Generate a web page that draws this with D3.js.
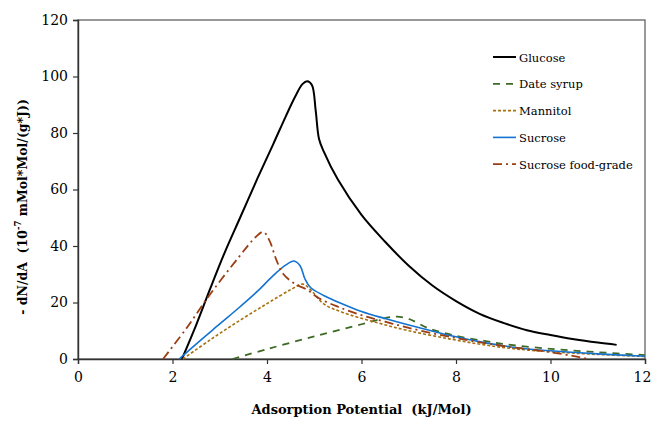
<!DOCTYPE html>
<html>
<head>
<meta charset="utf-8">
<script src="https://cdn.jsdelivr.net/npm/d3@7"></script>
<style>
  body { margin: 0; background: #fff; }
  svg text { fill: #000; }
</style>
</head>
<body>
<div id="chart"></div>
<script>
const xTicks = [0, 2, 4, 6, 8, 10, 12];
const yTicks = [0, 20, 40, 60, 80, 100, 120];

const glucose = [[2.2,0],[2.5,12],[2.8,25],[3.1,37.5],[3.43,50],[3.8,64],[4.13,76],[4.4,86],[4.6,93],[4.75,97.3],[4.85,98.3],[4.95,97],[5.03,88],[5.1,78],[5.2,73.5],[5.5,63.5],[6.0,51],[6.5,41.5],[7,33],[7.5,26],[8,20.5],[8.5,16],[9,12.8],[9.5,10.2],[10,8.5],[10.5,7],[11,5.8],[11.4,5]];
const dateSyrup = [[3.27,0],[4.0,3.5],[5.0,8],[6.0,12.3],[6.5,14.5],[6.75,15],[7.0,14.2],[7.4,11],[8,8.2],[8.6,6.4],[9,5.3],[10,3.6],[11,2.4],[12,1.4]];
const mannitol = [[2.22,0],[2.8,6.8],[3.4,13.4],[4.0,19.6],[4.5,24.5],[4.76,26.5],[4.95,24],[5.2,19.5],[5.6,16.5],[6.3,13],[7,10],[7.9,7],[8.6,5],[9.3,3.5],[10,2.6],[11,1.6],[12,0.9]];
const sucrose = [[2.14,0],[2.5,5.3],[3.0,12.4],[3.43,18.5],[3.8,24],[4.13,29.5],[4.4,33.3],[4.57,34.7],[4.7,33],[4.8,28.5],[4.92,25.3],[5.2,22.5],[5.55,19.8],[6.0,16.8],[6.5,14.3],[7,12],[7.9,8.2],[8.6,5.8],[9.3,4],[10,2.9],[11,1.8],[12,1.0]];
const sucroseFG = [[1.8,0],[2.3,11],[2.8,23],[3.4,36],[3.75,43],[3.92,45],[4.05,42],[4.2,35],[4.35,30],[4.6,26.5],[4.85,24.5],[5.1,21.5],[5.5,18.5],[6,15.5],[6.5,13.2],[7,11],[8,7.4],[9,4.6],[10,2.4],[10.5,1],[10.8,0]];

const series = [
  { name: "Glucose", data: glucose, color: "#000000", width: 2, dash: null },
  { name: "Date syrup", data: dateSyrup, color: "#3e6a26", width: 1.8, dash: "7,6" },
  { name: "Mannitol", data: mannitol, color: "#a8700f", width: 1.6, dash: "3,2" },
  { name: "Sucrose", data: sucrose, color: "#1273d1", width: 1.6, dash: null },
  { name: "Sucrose food-grade", data: sucroseFG, color: "#9c3d12", width: 1.8, dash: "9,4,2,4" }
];

const width = 653, height = 425;
const margin = { top: 20, right: 8, bottom: 66, left: 78 };
const innerW = 645 - margin.left, innerH = 359 - margin.top;
const serif = "'DejaVu Serif', serif";

const svg = d3.select("#chart").append("svg")
  .attr("width", width).attr("height", height);
const g = svg.append("g").attr("transform", `translate(${margin.left},${margin.top})`);

const x = d3.scaleLinear().domain([0, 12]).range([0, innerW]);
const y = d3.scaleLinear().domain([0, 120]).range([innerH, 0]);

// frame
g.append("rect").attr("x", 0).attr("y", 0).attr("width", innerW).attr("height", innerH)
  .attr("fill", "none").attr("stroke", "#555").attr("stroke-width", 1.2);

const xAxis = g.append("g").attr("transform", `translate(0,${innerH})`)
  .call(d3.axisBottom(x).tickValues(xTicks).tickSize(5).tickPadding(8).tickFormat(d3.format("d")));
const yAxis = g.append("g")
  .call(d3.axisLeft(y).tickValues(yTicks).tickSize(5).tickPadding(5).tickFormat(d3.format("d")));
[xAxis, yAxis].forEach(a => {
  a.attr("font-family", null);
  a.select(".domain").attr("stroke", "#333").attr("stroke-width", 1.4);
  a.selectAll(".tick line").attr("stroke", "#333").attr("stroke-width", 1.2);
  a.selectAll("text").attr("font-size", 14).style("font-family", serif);
});
// keep the last x label inside the page
xAxis.selectAll(".tick text").filter(d => d === 12).attr("dx", -3);

const line = d3.line().x(d => x(d[0])).y(d => y(d[1])).curve(d3.curveCatmullRom.alpha(0.5));

g.selectAll(".series").data(series).enter().append("path")
  .attr("class", "series")
  .attr("d", d => line(d.data))
  .attr("fill", "none")
  .attr("stroke", d => d.color)
  .attr("stroke-width", d => d.width)
  .attr("stroke-dasharray", d => d.dash);

// legend
const legend = svg.append("g").attr("transform", "translate(493,57)");
const rows = legend.selectAll("g").data(series).enter().append("g")
  .attr("transform", (d, i) => `translate(0,${i * 26.8})`);
rows.append("line").attr("x1", 0).attr("x2", 23).attr("y1", 0).attr("y2", 0)
  .attr("stroke", d => d.color).attr("stroke-width", d => d.width)
  .attr("stroke-dasharray", d => d.dash);
rows.append("text").attr("x", 26).attr("y", 4.5).attr("font-size", 11.5)
  .style("font-family", serif).text(d => d.name);

// axis titles
svg.append("text").attr("x", 78 + innerW / 2).attr("y", 414).attr("text-anchor", "middle")
  .attr("font-size", 13).attr("font-weight", "bold").style("white-space", "pre")
  .style("font-family", serif)
  .text("Adsorption Potential  (kJ/Mol)");

const yt = svg.append("text").attr("transform", "translate(27,207) rotate(-90)")
  .attr("text-anchor", "middle").attr("font-size", 12.5).attr("font-weight", "bold")
  .style("white-space", "pre").style("font-family", serif);
yt.append("tspan").text("- dN/dA  (10");
yt.append("tspan").attr("dy", -6).attr("font-size", 8.5).text("-7");
yt.append("tspan").attr("dy", 6).text(" mMol*Mol/(g*J))");
</script>
</body>
</html>
